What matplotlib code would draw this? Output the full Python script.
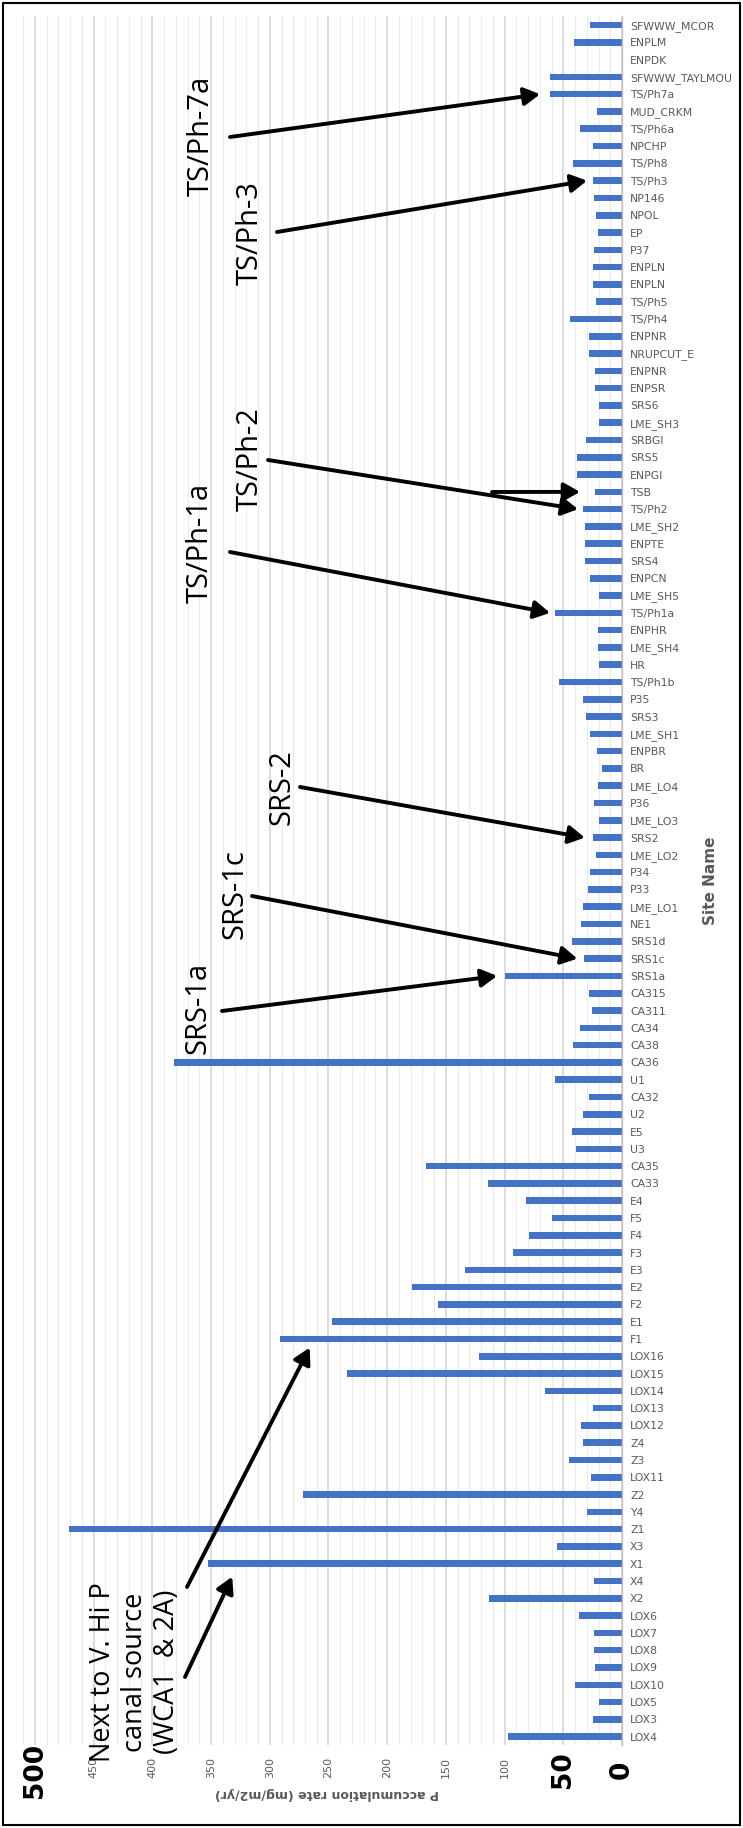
import numpy as np
import matplotlib
matplotlib.use('Agg')
import matplotlib.pyplot as plt
from matplotlib.patches import Rectangle
from matplotlib.ticker import MultipleLocator

# site names, bottom to top as they appear in the rotated chart
sites = ['LOX4', 'LOX3', 'LOX5', 'LOX10', 'LOX9', 'LOX8', 'LOX7', 'LOX6', 'X2', 'X4',
         'X1', 'X3', 'Z1', 'Y4', 'Z2', 'LOX11', 'Z3', 'Z4', 'LOX12', 'LOX13',
         'LOX14', 'LOX15', 'LOX16', 'F1', 'E1', 'F2', 'E2', 'E3', 'F3', 'F4',
         'F5', 'E4', 'CA33', 'CA35', 'U3', 'E5', 'U2', 'CA32', 'U1', 'CA36',
         'CA38', 'CA34', 'CA311', 'CA315', 'SRS1a', 'SRS1c', 'SRS1d', 'NE1', 'LME_LO1', 'P33',
         'P34', 'LME_LO2', 'SRS2', 'LME_LO3', 'P36', 'LME_LO4', 'BR', 'ENPBR', 'LME_SH1', 'SRS3',
         'P35', 'TS/Ph1b', 'HR', 'LME_SH4', 'ENPHR', 'TS/Ph1a', 'LME_SH5', 'ENPCN', 'SRS4', 'ENPTE',
         'LME_SH2', 'TS/Ph2', 'TSB', 'ENPGI', 'SRS5', 'SRBGI', 'LME_SH3', 'SRS6', 'ENPSR', 'ENPNR',
         'NRUPCUT_E', 'ENPNR', 'TS/Ph4', 'TS/Ph5', 'ENPLN', 'ENPLN', 'P37', 'EP', 'NPOL', 'NP146',
         'TS/Ph3', 'TS/Ph8', 'NPCHP', 'TS/Ph6a', 'MUD_CRKM', 'TS/Ph7a', 'SFWWW_TAYLMOU', 'ENPDK', 'ENPLM', 'SFWWW_MCOR']

# P accumulation rate (mg/m2/yr)
p_rate = [97.5, 25, 20, 40, 23, 24, 24, 37, 113, 24,
          353, 55.6, 471, 29.5, 272, 26, 45, 33.5, 35, 24.5,
          65.5, 234, 122, 291, 247, 156.7, 178.6, 134, 93, 79,
          59.3, 81.8, 114, 167, 39, 42.3, 33, 28, 57, 382,
          41.7, 35.8, 25.8, 28, 99.4, 32, 42.9, 34.6, 33.5, 29.2,
          27, 22.4, 24.7, 19.3, 24.1, 20.4, 17, 21.6, 27.5, 31,
          33.5, 53.4, 20, 20.4, 20.4, 56.8, 20, 27.5, 31.5, 31.5,
          31.5, 33.5, 23.3, 38, 38, 31, 19.6, 19.6, 22.7, 23.3,
          28, 28, 44, 22, 24.4, 24.4, 23.8, 20.7, 22, 23.8,
          24.4, 42, 24.4, 35.5, 21, 61.3, 61.3, 0, 40.6, 27]

value_ticks = np.arange(0, 501, 50)
bold_ticks = [500, 50, 0]

W, H = 743, 1828
fig = plt.figure(figsize=(W / 100, H / 100), dpi=100)

# plot box in image pixels
L, R, T, B = 20.9, 622.0, 16.4, 1745.3
ax = fig.add_axes([L / W, 1 - B / H, (R - L) / W, (B - T) / H])

n = len(sites)
pos = np.arange(n)
ax.barh(pos, p_rate, height=0.38, color='#4472C4')
ax.set_xlim(512, 0)
ax.set_ylim(-0.5, n - 0.5)

ax.set_axisbelow(True)
ax.set_xticks(value_ticks)
ax.set_xticklabels(['' if v in bold_ticks else str(v) for v in value_ticks])
ax.xaxis.set_minor_locator(MultipleLocator(10))
ax.grid(which='major', axis='x', color='#d3d3d3', lw=1.1)
ax.grid(which='minor', axis='x', color='#ebebeb', lw=0.9)
ax.tick_params(axis='x', which='both', length=0, pad=8.5, labelsize=8,
               labelcolor='#595959', labelrotation=90)

ax.yaxis.tick_right()
ax.set_yticks(pos)
ax.set_yticklabels(sites, fontsize=7.8, color='#595959')
ax.tick_params(axis='y', length=0, pad=5.8)

for s in ['top', 'left', 'bottom']:
    ax.spines[s].set_visible(False)
ax.spines['right'].set_color('#bfbfbf')
ax.spines['right'].set_linewidth(1)

for v in bold_ticks:
    ax.text(v, -0.0143, str(v), transform=ax.get_xaxis_transform(), rotation=90,
            ha='center', va='center', fontsize=19, fontweight='bold', color='black')

ax.text(251, -0.0276, 'P accumulation rate (mg/m2/yr)', transform=ax.get_xaxis_transform(),
        rotation=180, ha='center', va='center', fontsize=9, fontweight='bold', color='#595959')
ax.text(1.148, 0.5, 'Site Name', transform=ax.transAxes, rotation=90,
        ha='center', va='center', fontsize=11, fontweight='bold', color='#595959')

ann_font = ['Open Sans', 'DejaVu Sans']

# label, label centre (px), arrow start (px), target site index, offset in value, offset in rows
callouts = [
    ('TS/Ph-7a', (201, 136), (230, 137), 95, 8.5, 0),
    ('TS/Ph-3', (250, 233), (277, 232), 90, 5.4, 0),
    ('TS/Ph-2', (250, 459), (268, 460), 71, 4, 0),
    (None, None, (492, 492), 72, 12.5, 0),
    ('TS/Ph-1a', (200, 543), (230, 552), 65, 4.5, 0),
    ('SRS-2', (282, 787), (300, 787), 52, 7, 0),
    ('SRS-1c', (235, 894), (252, 896), 45, 6, 0),
    ('SRS-1a', (198, 1008), (222, 1011), 44, 7, 0),
    (None, None, (185, 1677), 10, -21, -0.75),
    (None, None, (187, 1587), 23, -25, -0.5),
]

for label, txy, sxy, i, dv, di in callouts:
    if label is not None:
        fig.text(txy[0] / W, 1 - txy[1] / H, label, rotation=90, ha='center', va='center',
                 fontsize=21, family=ann_font, color='black')
    ax.annotate('', xy=(p_rate[i] + dv, i + di), xycoords='data',
                xytext=(sxy[0], H - sxy[1]), textcoords='figure pixels',
                arrowprops=dict(arrowstyle='-|>,head_length=0.8,head_width=0.45',
                                mutation_scale=12, lw=2.8, color='black',
                                shrinkA=0, shrinkB=0), zorder=5)

fig.text(135 / W, 1 - 1672 / H, 'Next to V. Hi P\ncanal source\n(WCA1  & 2A)', rotation=90,
         ha='center', va='center', multialignment='center', linespacing=1.2,
         fontsize=19.5, family=ann_font, color='black')

fig.add_artist(Rectangle((3 / W, 3 / H), (W - 6) / W, (H - 6) / H, transform=fig.transFigure,
                         fill=False, ec='black', lw=1.5))

fig.savefig('out.png', dpi=100)
